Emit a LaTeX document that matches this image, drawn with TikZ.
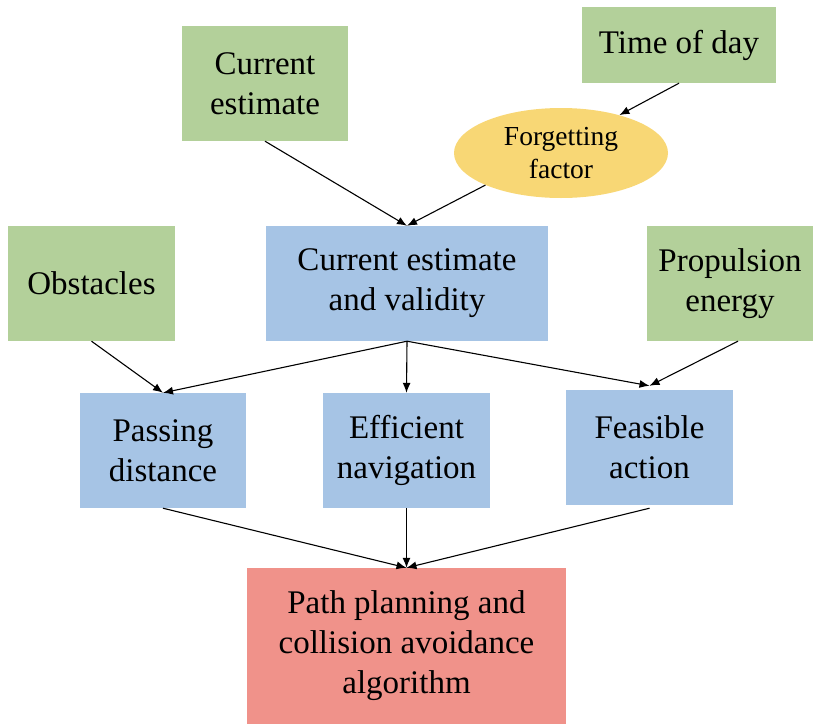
\documentclass[tikz,border=0pt]{standalone}
\usepackage{fontspec}
\setmainfont{Liberation Serif}
\newfontfamily\boxfont{Liberation Serif}
\usetikzlibrary{arrows.meta,shapes.geometric}
\definecolor{inputgreen}{HTML}{B3D09A}
\definecolor{stageblue}{HTML}{A6C4E5}
\definecolor{resultred}{HTML}{F0928A}
\definecolor{factoryellow}{HTML}{F8D775}
\tikzset{
  box/.style={rectangle, inner sep=0pt, align=center,
    font=\boxfont\fontsize{33}{40}\selectfont},
  inbox/.style={box, fill=inputgreen},
  stagebox/.style={box, fill=stageblue},
  resultbox/.style={box, fill=resultred},
  factorshape/.style={ellipse, fill=factoryellow, inner sep=0pt, align=center,
    minimum width=214pt, minimum height=90pt,
    font=\boxfont\fontsize{27.5}{33}\selectfont},
  link/.style={line width=1.1pt, -{Latex[length=10pt,width=8pt]}}
}
\begin{document}
\begin{tikzpicture}[x=1pt,y=-1pt]
\useasboundingbox (0,0) rectangle (819,723);
% inputs
\node[inbox, minimum width=166pt, minimum height=115pt] (ce) at (265,83.5) {Current\\estimate};
\node[inbox, minimum width=194pt, minimum height=76pt] (tod) at (679,45) {Time of day};
\node[factorshape] (ff) at (561,153) {Forgetting\\factor};
\node[inbox, minimum width=167pt, minimum height=115pt] (obs) at (91.5,283.5) {Obstacles};
\node[inbox, minimum width=166pt, minimum height=115pt] (prop) at (730,283.5) {Propulsion\\energy};
% processing stages
\node[stagebox, minimum width=282pt, minimum height=115pt] (cev) at (407,283.5) {Current estimate\\and validity};
\node[stagebox, minimum width=166pt, minimum height=115pt] (pd) at (163,450.5) {Passing\\distance};
\node[stagebox, minimum width=167pt, minimum height=115pt] (en) at (406.5,450.5) {Efficient\\navigation};
\node[stagebox, minimum width=167pt, minimum height=115pt] (fa) at (649.5,447) {Feasible\\action};
% final algorithm
\node[resultbox, minimum width=319pt, minimum height=156pt] (pp) at (406.5,646) {Path planning and\\collision avoidance\\algorithm};
% connectors
\draw[link] (ce.south) -- (cev.north);
\draw[link] (ff.203) -- (cev.north);
\draw[link] (tod.south) -- (ff.33);
\draw[link] (obs.south) -- (pd.north);
\draw[link] (cev.south) -- (pd.north);
\draw[link] (cev.south) -- (en.north);
\draw[link] (cev.south) -- ([yshift=3.5pt]fa.north);
\draw[link] ([xshift=8pt]prop.south) -- ([yshift=3.5pt]fa.north);
\draw[link] (pd.south) -- (pp.north);
\draw[link] (en.south) -- (pp.north);
\draw[link] ([yshift=-3.5pt]fa.south) -- (pp.north);
\end{tikzpicture}
\end{document}
